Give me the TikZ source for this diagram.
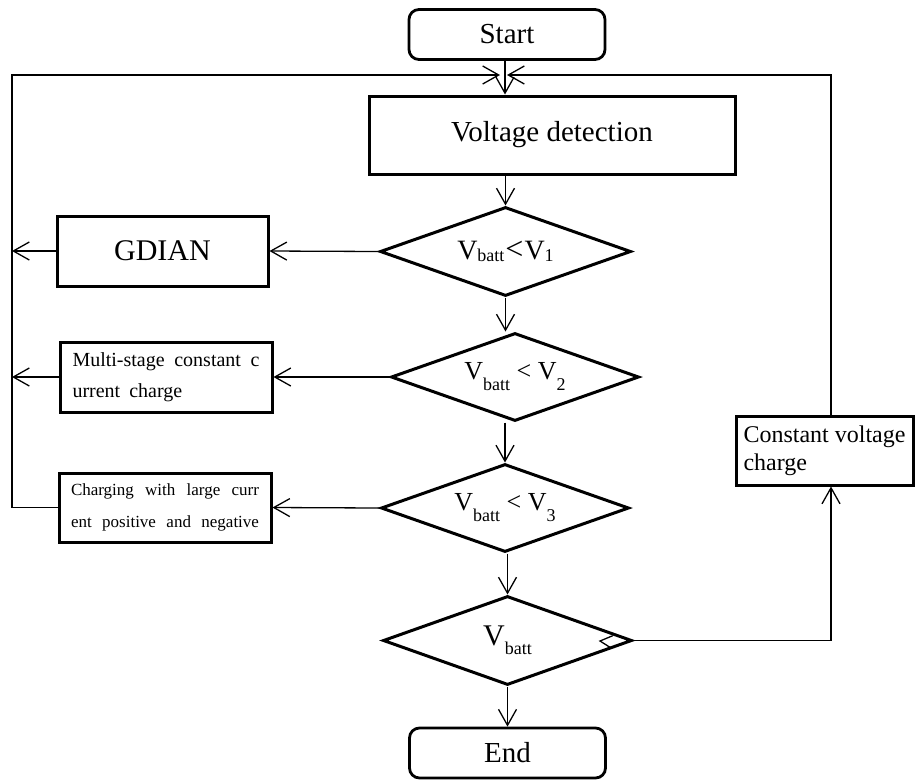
\documentclass[tikz,border=0pt]{standalone}
\usepackage{fontspec}
\setmainfont{Liberation Serif}
\usetikzlibrary{arrows.meta,shapes.geometric}
\newcommand{\lowsub}[2]{\raisebox{#1}{\fontsize{18}{18}\selectfont #2}}
\begin{document}
\begin{tikzpicture}[x=1pt,y=-1pt,
  box/.style={draw,line width=3pt,rectangle,inner sep=0pt},
  term/.style={draw,line width=2.8pt,rectangle,rounded corners=10pt,inner sep=0pt,
    minimum width=196pt,minimum height=50pt,font=\fontsize{29}{29}\selectfont},
  dec/.style={draw,line width=3pt,diamond,inner sep=0pt,aspect=2.7},
  conn/.style={line width=1.3pt},
  arr/.style={conn,-{Straight Barb[length=16pt,width=18pt,line width=1.3pt]}}
]
\useasboundingbox (0,0) rectangle (917,780);

% nodes
\node[term] (start) at (507,34.5) {Start};
\node[box,minimum width=366pt,minimum height=78pt,font=\fontsize{29}{29}\selectfont] (vd) at (552,135) {Voltage detection};
\node[dec,minimum width=251pt,minimum height=89pt] (d1) at (505.5,251.5)
  {\fontsize{28}{28}\selectfont V\lowsub{-2pt}{batt}\hspace{1pt}{\fontsize{32}{32}\selectfont <}\hspace{1pt}V\lowsub{-2pt}{1}};
\node[dec,minimum width=248pt,minimum height=88pt] (d2) at (515,377)
  {\fontsize{26}{26}\selectfont V\lowsub{-11pt}{batt} < V\lowsub{-11pt}{2}};
\node[dec,minimum width=248pt,minimum height=88pt] (d3) at (505,508)
  {\fontsize{26}{26}\selectfont V\lowsub{-11pt}{batt} < V\lowsub{-11pt}{3}};
\node[dec,minimum width=249pt,minimum height=89pt] (d4) at (507.5,640.5)
  {\fontsize{30}{30}\selectfont V\lowsub{-9pt}{batt}};
\node[term] (end) at (507.5,753) {End};

\node[box,minimum width=211pt,minimum height=70pt,font=\fontsize{30}{30}\selectfont] (gdian) at (162.5,251) {GDIAN};
\node[box,minimum width=212pt,minimum height=70pt,align=left,
  font=\fontsize{20}{31}\selectfont] (multi) at (166,377)
  {\makebox[187pt][s]{Multi-stage constant c}\\urrent\hspace{9pt}charge};
\node[box,minimum width=212pt,minimum height=69pt,align=left,
  font=\fontsize{17}{32}\selectfont] (charging) at (165,507.5)
  {\makebox[188pt][s]{Charging with large curr}\\\makebox[188pt][s]{ent positive and negative}};
\node[box,minimum width=177pt,minimum height=69pt,align=left,
  font=\fontsize{24}{28}\selectfont] (cvc) at (824.5,450.5)
  {Constant voltage\\charge};

% loop coordinates
\coordinate (lt) at (12,75);
\coordinate (rt) at (831,75);
\coordinate (jn) at (505,75);

% connectors
\draw[arr] (start.south -| jn) -- (vd.north -| jn);
\draw[arr] (charging.west) -- (charging.west -| lt) -- (lt) -- ([xshift=-5pt]jn);
\draw[arr] (cvc.north -| rt) -- (rt) -- ([xshift=2pt]jn);
\draw[arr] (vd.south -| d1.north) -- (d1.north);
\draw[arr] (d1.west) -- (gdian.east);
\draw[arr] (gdian.west) -- (gdian.west -| lt);
\draw[arr] (d1.south) -- (d1.south |- d2.north);
\draw[arr] (d2.west) -- (multi.east);
\draw[arr] (multi.west) -- (multi.west -| lt);
\draw[arr] (d2.south -| d3.north) -- (d3.north);
\draw[arr] (d3.west) -- (charging.east);
\draw[arr] (d4.north |- d3.south) -- (d4.north);
\draw[arr] (d4.south) -- (end.north);
\draw[arr] (d4.east) -- (d4.east -| rt) -- (cvc.south -| rt);

% small mark inside last decision
\draw[line width=1.3pt] (612.7,635.7) -- (600,641) -- (610,647.3);
\end{tikzpicture}
\end{document}
